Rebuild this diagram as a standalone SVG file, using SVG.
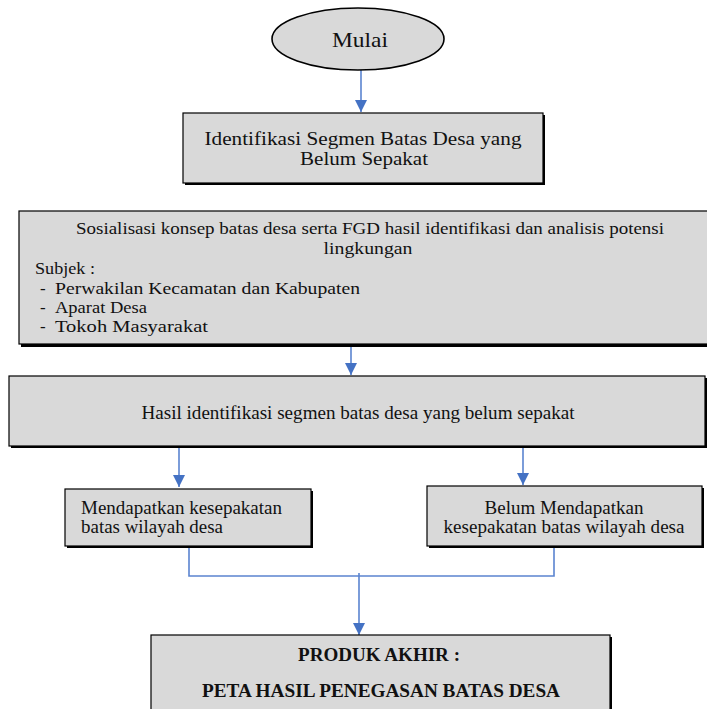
<svg xmlns="http://www.w3.org/2000/svg" width="707" height="709" viewBox="0 0 707 709">
<defs>
<style>
.box{fill:#d9d9d9;stroke:#000;stroke-width:1.2}
.sh{fill:#000}
.t{font-family:'Liberation Serif','DejaVu Serif',serif;fill:#111}
.b{font-weight:bold}
.c{text-anchor:middle}
.ln{fill:none;stroke:#5b84d0;stroke-width:1.6}
</style>
<marker id="ah" markerUnits="userSpaceOnUse" markerWidth="14" markerHeight="12" refX="12" refY="6" orient="auto">
<path d="M0,0 L12,6 L0,12 Z" fill="#4472c4"/>
</marker>
</defs>
<rect width="707" height="709" fill="#fff"/>

<g id="connectors">
<line class="ln" x1="361" y1="70" x2="361" y2="112" marker-end="url(#ah)"/>
<line class="ln" x1="351" y1="346" x2="351" y2="375" marker-end="url(#ah)"/>
<line class="ln" x1="179" y1="448" x2="179" y2="487" marker-end="url(#ah)"/>
<line class="ln" x1="523" y1="448" x2="523" y2="485" marker-end="url(#ah)"/>
<polyline class="ln" points="189,548 189,576 554,576 554,548"/>
<line class="ln" x1="359" y1="573" x2="359" y2="635" marker-end="url(#ah)"/>
</g>

<g id="start">
<ellipse cx="358" cy="39" rx="86" ry="31" fill="#d9d9d9" stroke="#000" stroke-width="1.6"/>
<text class="t c" x="360" y="47" font-size="21" textLength="56" lengthAdjust="spacingAndGlyphs">Mulai</text>
</g>

<g id="identifikasi">
<rect class="sh" x="185" y="115" width="360" height="70"/>
<rect class="box" x="183" y="113" width="360" height="70"/>
<text class="t c" x="363" y="145" font-size="19" textLength="317" lengthAdjust="spacingAndGlyphs">Identifikasi Segmen Batas Desa yang</text>
<text class="t c" x="364" y="165" font-size="19" textLength="128" lengthAdjust="spacingAndGlyphs">Belum Sepakat</text>
</g>

<g id="sosialisasi">
<rect class="sh" x="21" y="213" width="710" height="134"/>
<rect class="box" x="19" y="211" width="710" height="133"/>
<text class="t c" x="370" y="234" font-size="17" textLength="588" lengthAdjust="spacingAndGlyphs">Sosialisasi konsep batas desa serta FGD hasil identifikasi dan analisis potensi</text>
<text class="t c" x="368" y="254" font-size="17" textLength="89" lengthAdjust="spacingAndGlyphs">lingkungan</text>
<text class="t" x="35" y="274" font-size="17" textLength="60" lengthAdjust="spacingAndGlyphs">Subjek :</text>
<text class="t" x="40" y="294" font-size="17">-</text>
<text class="t" x="55" y="294" font-size="17" textLength="305" lengthAdjust="spacingAndGlyphs">Perwakilan Kecamatan dan Kabupaten</text>
<text class="t" x="40" y="313" font-size="17">-</text>
<text class="t" x="55" y="313" font-size="17" textLength="92" lengthAdjust="spacingAndGlyphs">Aparat Desa</text>
<text class="t" x="40" y="332" font-size="17">-</text>
<text class="t" x="55" y="332" font-size="17" textLength="153" lengthAdjust="spacingAndGlyphs">Tokoh Masyarakat</text>
</g>

<g id="hasil">
<rect class="sh" x="11" y="378" width="696" height="70"/>
<rect class="box" x="9" y="376" width="696" height="70"/>
<text class="t c" x="358" y="419" font-size="18" textLength="433" lengthAdjust="spacingAndGlyphs">Hasil identifikasi segmen batas desa yang belum sepakat</text>
</g>

<g id="sepakat">
<rect class="sh" x="67" y="491" width="246" height="57"/>
<rect class="box" x="65" y="489" width="246" height="57"/>
<text class="t" x="81" y="514" font-size="19" textLength="201" lengthAdjust="spacingAndGlyphs">Mendapatkan kesepakatan</text>
<text class="t" x="81" y="533" font-size="19" textLength="142" lengthAdjust="spacingAndGlyphs">batas wilayah desa</text>
</g>

<g id="belum-sepakat">
<rect class="sh" x="429" y="488" width="275" height="60"/>
<rect class="box" x="427" y="486" width="275" height="60"/>
<text class="t c" x="564" y="514" font-size="19" textLength="159" lengthAdjust="spacingAndGlyphs">Belum Mendapatkan</text>
<text class="t c" x="564" y="533" font-size="19" textLength="241" lengthAdjust="spacingAndGlyphs">kesepakatan batas wilayah desa</text>
</g>

<g id="produk">
<rect class="sh" x="153" y="637" width="459" height="90"/>
<rect class="box" x="151" y="635" width="459" height="90"/>
<text class="t b c" x="379" y="661" font-size="18" textLength="162" lengthAdjust="spacingAndGlyphs">PRODUK AKHIR :</text>
<text class="t b c" x="381" y="697" font-size="18" textLength="358" lengthAdjust="spacingAndGlyphs">PETA HASIL PENEGASAN BATAS DESA</text>
</g>
</svg>
